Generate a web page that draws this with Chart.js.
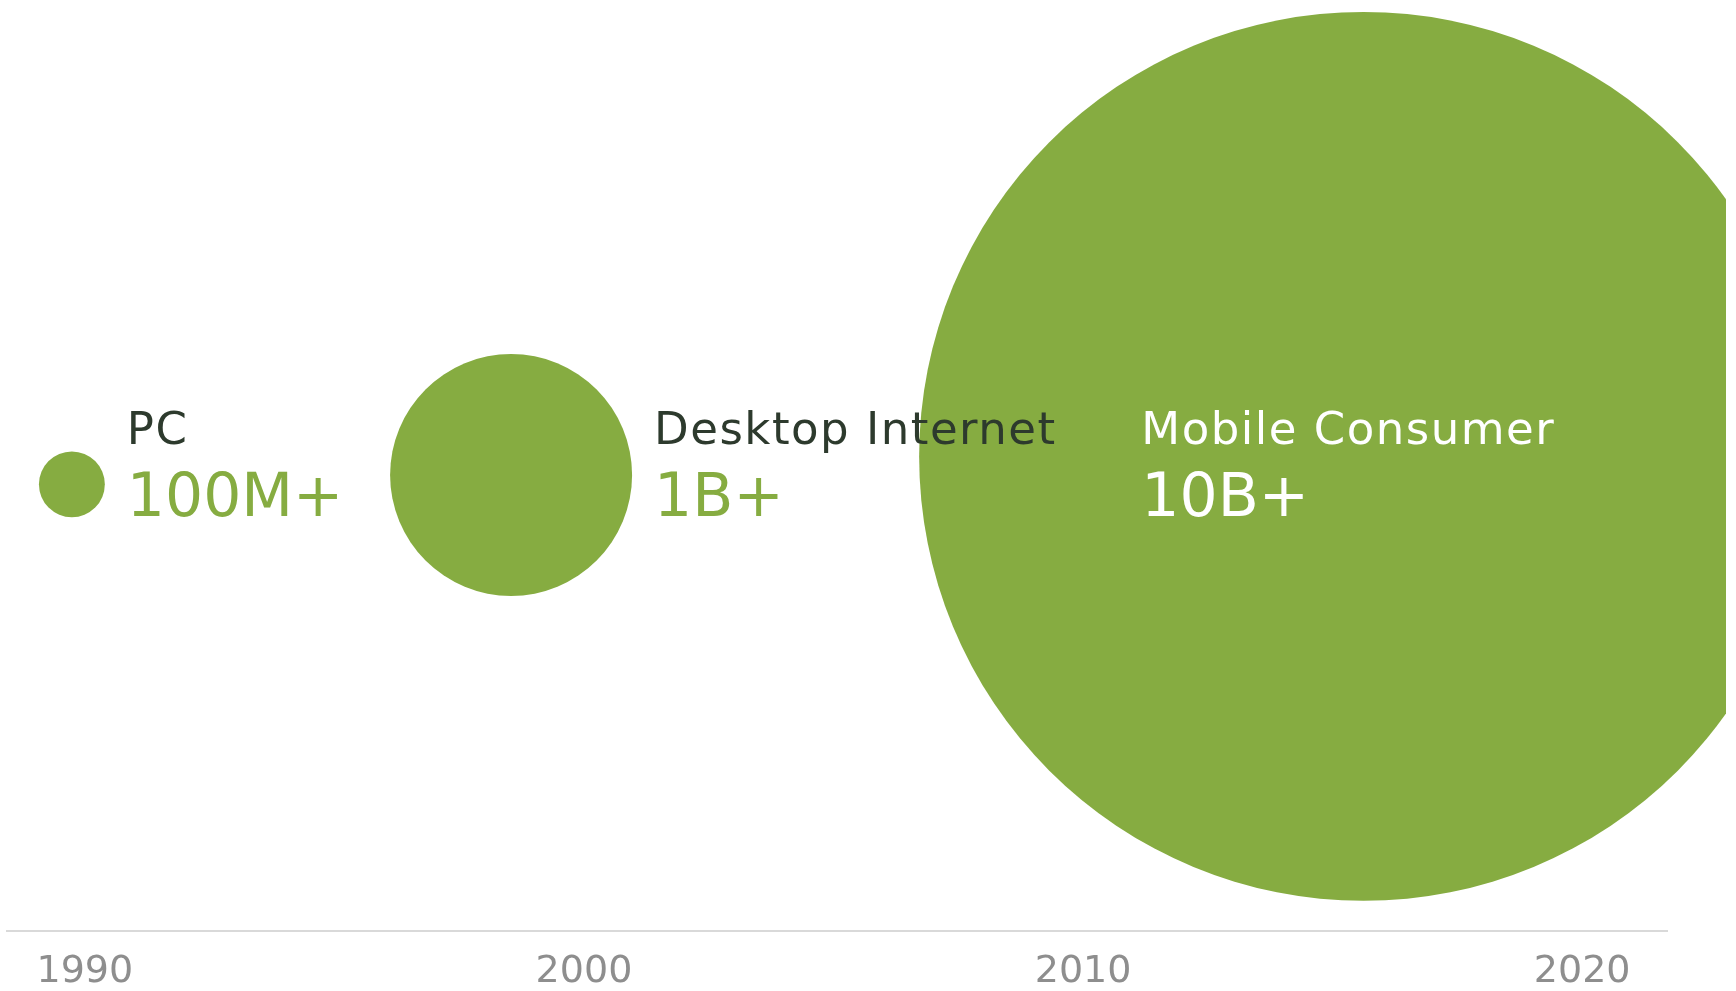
<!DOCTYPE html>
<html>
<head>
<meta charset="utf-8">
<script src="https://cdn.jsdelivr.net/npm/chart.js@4"></script>
<style>
  html, body { margin: 0; padding: 0; background: #fff; overflow: hidden; }
  canvas { display: block; }
</style>
</head>
<body>
<canvas id="eraChart" width="1736" height="991" style="width:1736px;height:991px"></canvas>
<script>
// computing eras: units shipped, in billions
const eras = ["PC", "Desktop Internet", "Mobile Consumer"];
const valueLabels = ["100M+", "1B+", "10B+"];
const units = [0.1, 1, 10];
const eraYear = [1989.74, 1998.54, 2015.62];
const eraY = [-0.04, -0.02, 0.02];
const tickYears = [1990, 2000, 2010, 2020];

const green = "#86ac41";
const dark = "#2d3a2d";

const points = eraYear.map((yr, i) => ({ x: yr, y: eraY[i] }));

// labels drawn next to (or inside) each bubble
const eraLabels = {
    id: "eraLabels",
    afterDatasetsDraw(chart) {
        const ctx = chart.ctx;
        const meta = chart.getDatasetMeta(0);
        const mid = chart.scales.y.getPixelForValue(0);
        ctx.save();
        ctx.textAlign = "left";
        ctx.textBaseline = "alphabetic";
        meta.data.forEach((el, i) => {
            const r = el.options.radius;
            const inside = i === eras.length - 1;
            const x = inside ? el.x - r * 0.5 : el.x + r + 22;
            ctx.letterSpacing = "1.5px";
            ctx.font = "45px 'DejaVu Sans'";
            ctx.fillStyle = inside ? "#ffffff" : dark;
            ctx.fillText(eras[i], x, mid - 22);
            ctx.letterSpacing = "0px";
            ctx.font = "60px 'DejaVu Sans'";
            ctx.fillStyle = inside ? "#ffffff" : green;
            ctx.fillText(valueLabels[i], x, mid + 50);
        });
        ctx.restore();
    }
};

new Chart("eraChart", {
    type: "bubble",
    data: {
        datasets: [
            {
                data: points,
                backgroundColor: green,
                borderWidth: 0,
                hoverBorderWidth: 0,
                hoverRadius: 0,
                radius: ctx => 121 * Math.pow(units[ctx.dataIndex], 0.565),
                clip: { left: 20, top: 20, right: 59, bottom: 20 }
            }
        ]
    },
    options: {
        responsive: false,
        animation: false,
        events: [],
        layout: { autoPadding: false, padding: { left: 7, right: 69, top: 0, bottom: -22 } },
        plugins: { legend: { display: false }, tooltip: { enabled: false } },
        scales: {
            x: {
                type: "linear",
                min: 1988.44,
                max: 2021.7,
                afterBuildTicks: axis => { axis.ticks = tickYears.map(v => ({ value: v })); },
                grid: { display: false, drawTicks: false },
                border: { display: true, color: "#d9d9d9", width: 2 },
                ticks: {
                    color: "#8e8e8e",
                    font: { family: "DejaVu Sans", size: 38 },
                    padding: 18,
                    maxRotation: 0,
                    autoSkip: false,
                    callback: v => String(v)
                }
            },
            y: { display: false, min: -1, max: 1 }
        }
    },
    plugins: [eraLabels]
});
</script>
</body>
</html>
